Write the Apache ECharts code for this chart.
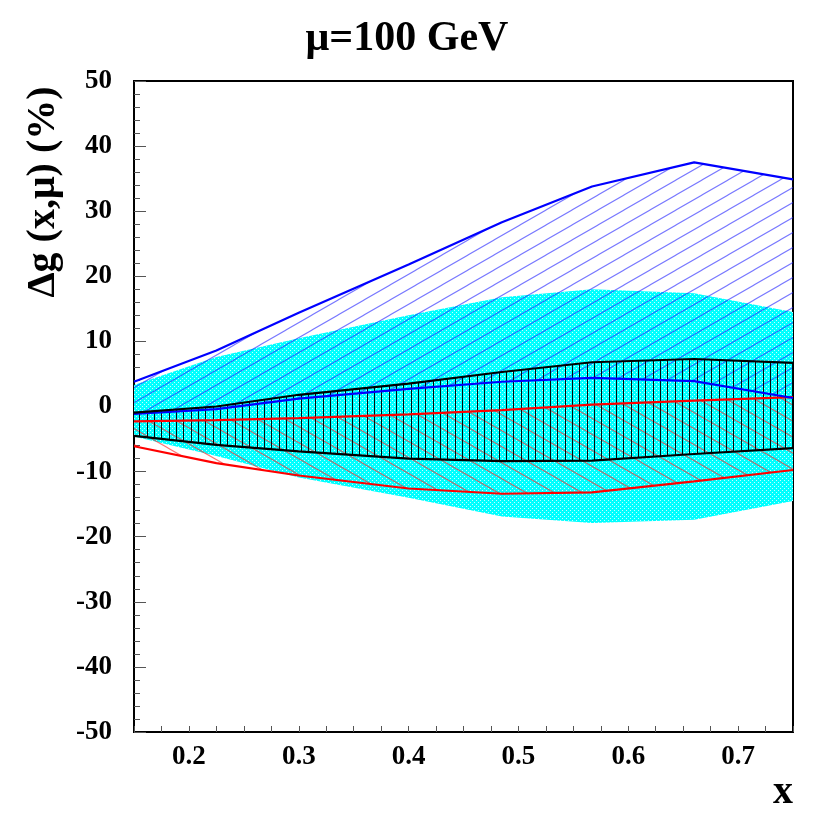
<!DOCTYPE html>
<html>
<head>
<meta charset="utf-8">
<script src="https://cdn.jsdelivr.net/npm/echarts@6/dist/echarts.min.js"></script>
<style>
  html, body { margin: 0; background: #fff; }
  #chart { width: 814px; height: 814px; }
</style>
</head>
<body>
<div id="chart"></div>
<script>
// x grid shared by all bands
const xs = [0.15, 0.225, 0.3, 0.4, 0.485, 0.567, 0.66, 0.75]

// band edges, in %
const cyanUpper  = [3.3, 7.6, 10.5, 14.0, 16.8, 18.0, 17.4, 14.5]
const cyanLower  = [-4.6, -7.6, -10.9, -14.0, -16.9, -17.9, -17.4, -14.5]
const blueUpper  = [3.8, 8.6, 14.4, 21.8, 28.3, 33.8, 37.5, 34.9]
const blueLower  = [-1.15, -0.4, 1.2, 2.7, 3.8, 4.4, 3.9, 1.3]
const redUpper   = [-2.3, -2.1, -1.8, -1.2, -0.55, 0.3, 0.9, 1.45]
const redLower   = [-6.1, -8.7, -10.6, -12.6, -13.4, -13.2, -11.5, -9.75]
const blackUpper = [-0.95, 0.0, 1.8, 3.5, 5.3, 6.8, 7.3, 6.7]
const blackLower = [-4.5, -5.9, -6.9, -8.0, -8.4, -8.3, -7.3, -6.4]

const xMajorTicks = [0.2, 0.3, 0.4, 0.5, 0.6, 0.7]

const FONT = '"Liberation Serif", "DejaVu Serif", serif'

function hatchTile(w, h, color, dir) {
  const c = document.createElement('canvas')
  c.width = w
  c.height = h
  const g = c.getContext('2d')
  g.strokeStyle = color
  g.lineWidth = 1.1
  g.beginPath()
  for (let i = -1; i <= 1; i++) {
    for (let j = -1; j <= 1; j++) {
      const ox = i * w
      const oy = j * h
      if (dir > 0) {
        g.moveTo(ox, oy + h)
        g.lineTo(ox + w, oy)
      } else {
        g.moveTo(ox, oy)
        g.lineTo(ox + w, oy + h)
      }
    }
  }
  g.stroke()
  return c
}

function verticalTile() {
  const c = document.createElement('canvas')
  c.width = 22
  c.height = 4
  const g = c.getContext('2d')
  g.fillStyle = 'rgba(0,0,0,0.95)'
  ;[0, 7, 15].forEach((x) => g.fillRect(x, 0, 1, 4))
  return c
}

function dotTile() {
  const c = document.createElement('canvas')
  c.width = 4
  c.height = 4
  const g = c.getContext('2d')
  g.fillStyle = '#00ffff'
  g.fillRect(0, 0, 4, 4)
  g.fillStyle = '#c4ffff'
  g.fillRect(0, 0, 1, 1)
  g.fillRect(2, 2, 1, 1)
  return c
}

// one polygon per band, drawn once from the full edge arrays
function band(id, lower, upper, tile, z) {
  return {
    type: 'custom',
    name: id,
    silent: true,
    z,
    data: xs.map((x, i) => [x, lower[i], upper[i]]),
    encode: { x: 0, y: [1, 2] },
    renderItem(params, api) {
      if (params.dataIndex !== 0) return
      const top = xs.map((x, i) => api.coord([x, upper[i]]))
      const bottom = xs.map((x, i) => api.coord([x, lower[i]])).reverse()
      return {
        type: 'polygon',
        shape: { points: top.concat(bottom) },
        style: { fill: { image: tile, repeat: 'repeat' }, stroke: null },
      }
    },
  }
}

function edge(values, color) {
  return {
    type: 'line',
    symbol: 'none',
    silent: true,
    z: 5,
    lineStyle: { color, width: 2.2 },
    data: xs.map((x, i) => [x, values[i]]),
  }
}

const chart = echarts.init(document.getElementById('chart'))

chart.setOption({
  animation: false,
  backgroundColor: '#fff',
  grid: {
    left: 134, right: 21, top: 81, bottom: 82,
    show: true, borderColor: '#000', borderWidth: 2,
  },
  xAxis: [
    {
      type: 'value',
      min: 0.15,
      max: 0.75,
      interval: 0.025,
      axisLine: { show: true, onZero: false, lineStyle: { color: '#000', width: 2 } },
      axisTick: { inside: true, length: 6, lineStyle: { color: '#555', width: 1 } },
      axisLabel: { show: false },
      splitLine: { show: false },
    },
    {
      type: 'value',
      position: 'bottom',
      min: 0.15,
      max: 0.75,
      interval: 0.05,
      axisLine: { show: false },
      axisTick: {
        inside: true, length: 12, customValues: xMajorTicks,
        lineStyle: { color: '#555', width: 1 },
      },
      axisLabel: {
        customValues: xMajorTicks,
        formatter: (v) => v.toFixed(1),
        fontFamily: FONT, fontWeight: 'bold', fontSize: 27, color: '#000', margin: 12,
      },
      splitLine: { show: false },
    },
  ],
  yAxis: {
    type: 'value',
    min: -50,
    max: 50,
    interval: 10,
    axisLine: { show: true, onZero: false, lineStyle: { color: '#000', width: 2 } },
    axisTick: { inside: true, length: 12, lineStyle: { color: '#555', width: 1 } },
    minorTick: { show: true, splitNumber: 5, length: 6, lineStyle: { color: '#555', width: 1 } },
    axisLabel: { fontFamily: FONT, fontWeight: 'bold', fontSize: 27, color: '#000', margin: 22 },
    splitLine: { show: false },
  },
  graphic: [
    {
      type: 'text', left: 'center', top: 18,
      style: { text: 'μ=100 GeV', font: 'bold 42px ' + FONT, fill: '#000' },
    },
    {
      type: 'text', x: 44, y: 192, rotation: Math.PI / 2,
      style: {
        text: 'Δg (x,μ) (%)', font: 'bold 40px ' + FONT, fill: '#000',
        align: 'center', verticalAlign: 'middle',
      },
    },
    {
      type: 'text', x: 793, y: 793,
      style: {
        text: 'x', font: 'bold 40px ' + FONT, fill: '#000',
        align: 'right', verticalAlign: 'middle',
      },
    },
  ],
  series: [
    band('cyan', cyanLower, cyanUpper, dotTile(), 1),
    band('blue', blueLower, blueUpper, hatchTile(26, 15, 'rgba(30,30,255,0.6)', 1), 2),
    band('red', redLower, redUpper, hatchTile(28, 16, 'rgba(255,30,30,0.62)', -1), 3),
    band('black', blackLower, blackUpper, verticalTile(), 4),
    edge(redUpper, '#ff0000'),
    edge(redLower, '#ff0000'),
    edge(blueUpper, '#0000ff'),
    edge(blueLower, '#0000ff'),
    edge(blackUpper, '#000000'),
    edge(blackLower, '#000000'),
  ],
})
</script>
</body>
</html>
